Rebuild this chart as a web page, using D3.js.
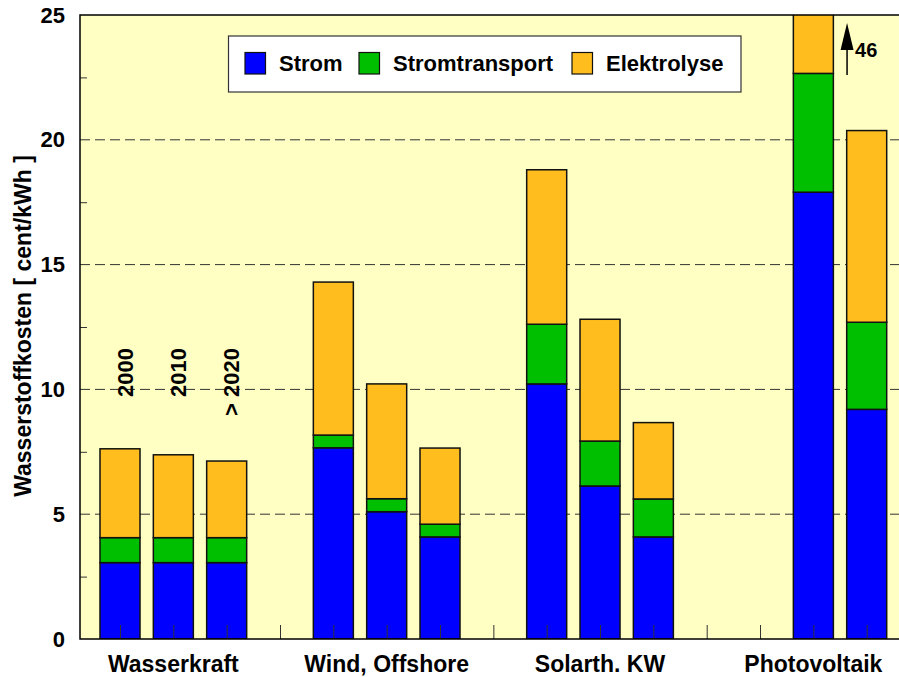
<!DOCTYPE html>
<html lang="de">
<head>
    <meta charset="UTF-8">
    <title>Wasserstoffkosten</title>
    <script src="https://d3js.org/d3.v7.min.js"></script>
    <style>
        body { margin: 0; background: #fff; }
        text { font-family: "Liberation Sans", Arial, sans-serif; font-weight: bold; fill: #000; }
    </style>
</head>
<body>
<svg width="899" height="677"></svg>

<script>
    // data
    const categories = ["Wasserkraft", "Wind, Offshore", "Solarth. KW", "Photovoltaik"];
    const years = ["2000", "2010", "> 2020"];
    const seriesNames = ["Strom", "Stromtransport", "Elektrolyse"];
    const seriesColors = ["#0000ff", "#00bf00", "#ffbe1e"];

    // one row per category, one value per year (null = no bar)
    const strom = [
        [3.06, 3.06, 3.06],
        [7.66, 5.10, 4.09],
        [10.22, 6.13, 4.09],
        [null, 17.90, 9.20]
    ];
    const stromtransport = [
        [1.00, 1.00, 1.00],
        [0.51, 0.52, 0.51],
        [2.39, 1.80, 1.52],
        [null, 4.76, 3.49]
    ];
    const elektrolyse = [
        [3.56, 3.32, 3.07],
        [6.13, 4.60, 3.05],
        [6.19, 4.88, 3.06],
        [null, 23.34, 7.68]
    ];
    const yTicks = [0, 5, 10, 15, 20, 25];
    const arrowLabel = "46";

    const svg = d3.select("svg");
    const plotL = 80, plotT = 15, plotB = 639, plotR = 906.7;

    const x = d3.scaleBand()
        .domain(categories)
        .range([plotL, plotR])
        .paddingInner(0.25)
        .paddingOuter(0.0625);

    const xYear = d3.scaleBand()
        .domain(years)
        .range([0, x.bandwidth()])
        .paddingInner(0.25)
        .paddingOuter(0.125);

    // slot scale for the small bottom ticks (one per bar slot incl. gaps)
    const xSlot = d3.scaleLinear().domain([0.25, 15.75]).range([plotL, plotR]);

    const y = d3.scaleLinear().domain([0, 25]).range([plotB, plotT]);

    svg.append("defs").append("clipPath").attr("id", "plotclip")
        .append("rect")
        .attr("x", plotL).attr("y", plotT)
        .attr("width", plotR - plotL).attr("height", plotB - plotT);

    // plot background
    svg.append("rect")
        .attr("x", plotL).attr("y", plotT)
        .attr("width", plotR - plotL).attr("height", plotB - plotT)
        .attr("fill", "#ffffc3");

    // dashed grid
    svg.append("g")
        .selectAll("line")
        .data(yTicks.filter(d => d > 0 && d < 25))
        .join("line")
        .attr("x1", plotL).attr("x2", plotR)
        .attr("y1", d => y(d)).attr("y2", d => y(d))
        .attr("stroke", "#333")
        .attr("stroke-dasharray", "10,5");

    // minor ticks on the left
    svg.append("g")
        .attr("transform", `translate(${plotL},0)`)
        .call(d3.axisRight(y).tickValues(d3.range(2.5, 25, 5)).tickSize(7).tickFormat(""))
        .call(g => g.select(".domain").remove())
        .selectAll("line").attr("stroke", "#333");

    // stacked bars
    const stack = [];
    categories.forEach((c, ci) => {
        years.forEach((yr, yi) => {
            if (strom[ci][yi] == null) return;
            const vals = [strom[ci][yi], stromtransport[ci][yi], elektrolyse[ci][yi]];
            let base = 0;
            vals.forEach((v, si) => {
                stack.push({cat: c, year: yr, s: si, y0: base, y1: base + v});
                base += v;
            });
        });
    });

    svg.append("g")
        .attr("clip-path", "url(#plotclip)")
        .selectAll("rect")
        .data(stack)
        .join("rect")
        .attr("x", d => x(d.cat) + xYear(d.year))
        .attr("width", xYear.bandwidth())
        .attr("y", d => y(d.y1))
        .attr("height", d => y(d.y0) - y(d.y1))
        .attr("fill", d => seriesColors[d.s])
        .attr("stroke", "#111")
        .attr("stroke-width", 1.5);

    // bottom ticks pointing up
    svg.append("g")
        .attr("transform", `translate(0,${plotB})`)
        .call(d3.axisTop(xSlot).tickValues(d3.range(1, 16)).tickSize(14).tickFormat(""))
        .call(g => g.select(".domain").remove())
        .selectAll("line").attr("stroke", "#333");

    // frame
    svg.append("path")
        .attr("d", `M${plotR},${plotT}H${plotL}V${plotB}H${plotR}`)
        .attr("fill", "none")
        .attr("stroke", "#000")
        .attr("stroke-width", 1.5);

    // y tick labels
    svg.append("g")
        .selectAll("text")
        .data(yTicks)
        .join("text")
        .attr("x", 65)
        .attr("y", d => y(d))
        .attr("text-anchor", "end")
        .attr("dominant-baseline", "central")
        .style("font-size", "22px")
        .text(d => d);

    // category labels
    svg.append("g")
        .selectAll("text")
        .data(categories)
        .join("text")
        .attr("x", d => x(d) + x.bandwidth() / 2)
        .attr("y", 672)
        .attr("text-anchor", "middle")
        .style("font-size", "23px")
        .text(d => d);

    // year labels above first group
    svg.append("g")
        .selectAll("text")
        .data(years)
        .join("text")
        .attr("transform", d => `translate(${x(categories[0]) + xYear(d) + xYear.bandwidth() / 2 + 5},348) rotate(-90)`)
        .attr("text-anchor", "end")
        .attr("dominant-baseline", "central")
        .style("font-size", "22px")
        .text(d => d);

    // y axis title
    svg.append("text")
        .attr("transform", "translate(23,326) rotate(-90)")
        .attr("text-anchor", "middle")
        .attr("dominant-baseline", "central")
        .style("font-size", "23px")
        .text("Wasserstoffkosten [ cent/kWh ]");

    // arrow for the off-scale bar
    const ax = x(categories[3]) + xYear(years[1]) + xYear.bandwidth() + 13.7;
    svg.append("line")
        .attr("x1", ax).attr("x2", ax)
        .attr("y1", y(25) + 60).attr("y2", y(25) + 30)
        .attr("stroke", "#000").attr("stroke-width", 1.5);
    svg.append("path")
        .attr("d", `M${ax},${y(25) + 8}L${ax - 6.5},${y(25) + 35}L${ax + 6.5},${y(25) + 35}Z`)
        .attr("fill", "#000");
    svg.append("text")
        .attr("x", ax + 8)
        .attr("y", y(25) + 42)
        .style("font-size", "20px")
        .text(arrowLabel);

    // legend
    const legend = svg.append("g");
    legend.append("rect")
        .attr("x", 228.5).attr("y", 36)
        .attr("width", 512.5).attr("height", 56)
        .attr("fill", "#fff").attr("stroke", "#333").attr("stroke-width", 1.2);
    const legendX = [245, 359, 572];
    const item = legend.selectAll("g")
        .data(seriesNames)
        .join("g")
        .attr("transform", (d, i) => `translate(${legendX[i]},52.5)`);
    item.append("rect")
        .attr("width", 20.5).attr("height", 21.5)
        .attr("fill", (d, i) => seriesColors[i])
        .attr("stroke", "#111").attr("stroke-width", 1.2);
    item.append("text")
        .attr("x", 34).attr("y", 11)
        .attr("dominant-baseline", "central")
        .style("font-size", "22px")
        .text(d => d);
</script>

</body>
</html>
